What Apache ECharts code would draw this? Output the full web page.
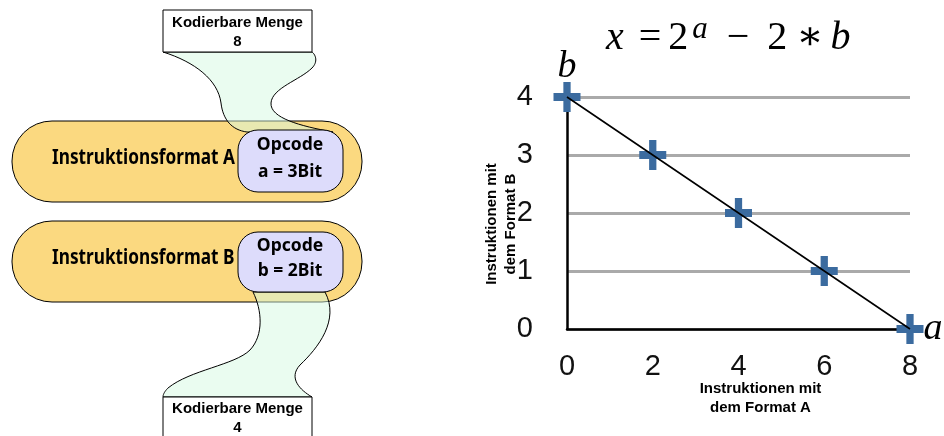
<!DOCTYPE html>
<html>
<head>
<meta charset="utf-8">
<script src="https://cdn.jsdelivr.net/npm/echarts@6/dist/echarts.min.js"></script>
<style>
  html, body { margin: 0; padding: 0; background: #fff; }
  #chart { width: 944px; height: 436px; }
</style>
</head>
<body>
<div id="chart"></div>
<script>
// Werte des Diagramms
const aVals = [0, 2, 4, 6, 8]
const bVals = [4, 3, 2, 1, 0]
const cornerNames = ['b', '', '', '', 'a']

// Texte der Skizze links
const formatNames = ['Instruktionsformat A', 'Instruktionsformat B']
const opcodeLines = [['Opcode', 'a = 3Bit'], ['Opcode', 'b = 2Bit']]
const mengen = [8, 4]

const sansBold = 'bold 15px "Liberation Sans", Arial, sans-serif'
const diagFont = '"Noto Sans", sans-serif'

// Bezier-Segmente in Punkte zerlegen (fuer das gruene Band)
function ribbon(segs) {
  const pts = []
  segs.forEach(s => {
    if (s.length === 2) {
      pts.push(s)
      return
    }
    const [p0, p1, p2, p3] = s
    for (let k = 0; k <= 16; k++) {
      const t = k / 16
      const u = 1 - t
      pts.push([
        u * u * u * p0[0] + 3 * u * u * t * p1[0] + 3 * u * t * t * p2[0] + t * t * t * p3[0],
        u * u * u * p0[1] + 3 * u * u * t * p1[1] + 3 * u * t * t * p2[1] + t * t * t * p3[1]
      ])
    }
  })
  return {
    type: 'polygon',
    shape: { points: pts },
    style: { fill: 'rgba(213,249,225,0.5)', stroke: '#000', lineWidth: 1 }
  }
}

function pill(y) {
  return {
    type: 'rect',
    shape: { x: 12, y: y, width: 350, height: 81, r: 40 },
    style: { fill: '#fbd980', stroke: '#000', lineWidth: 1 }
  }
}
function opcodeBox(y, h) {
  return {
    type: 'rect',
    shape: { x: 238, y: y, width: 105, height: h, r: 20 },
    style: { fill: '#dddcfb', stroke: '#000', lineWidth: 1 }
  }
}
function textEl(x, y, text, font, align, lh, extra) {
  return Object.assign({
    type: 'text',
    x: x,
    y: y,
    style: {
      text: text,
      font: font,
      fill: '#000',
      align: align,
      verticalAlign: 'middle',
      lineHeight: lh
    }
  }, extra || {})
}

const graphic = [
  // Format A
  pill(121),
  ribbon([
    [[163, 52], [195, 62], [218, 80], [221, 103]],
    [[221, 103], [223, 120], [232, 130], [247, 132]],
    [333, 132],
    [[333, 132], [300, 126], [270, 118], [271, 103]],
    [[271, 103], [272, 88], [300, 80], [312, 68]],
    [[312, 68], [318, 62], [316, 55], [312, 52]]
  ]),
  opcodeBox(130, 62),
  { type: 'rect', shape: { x: 163, y: 10, width: 149, height: 42 }, style: { fill: '#fff', stroke: '#000', lineWidth: 1 } },
  textEl(237.5, 32.5, 'Kodierbare Menge\n' + mengen[0], sansBold, 'center', 19),
  textEl(52, 158, formatNames[0], 'bold 21px ' + diagFont, 'left', 24, { scaleX: 0.82 }),
  textEl(290, 158.5, opcodeLines[0].join('\n'), 'bold 17.5px ' + diagFont, 'center', 27),
  // Format B
  pill(221),
  ribbon([
    [[253, 292], [262, 310], [264, 335], [250, 350]],
    [[250, 350], [235, 365], [190, 370], [168, 388]],
    [[168, 388], [164, 392], [163, 395], [163, 397]],
    [312, 397],
    [[312, 397], [300, 390], [288, 378], [300, 365]],
    [[300, 365], [318, 348], [340, 320], [325, 292]]
  ]),
  opcodeBox(232, 60),
  { type: 'rect', shape: { x: 163, y: 397, width: 149, height: 45 }, style: { fill: '#fff', stroke: '#000', lineWidth: 1 } },
  textEl(237.5, 418.5, 'Kodierbare Menge\n' + mengen[1], sansBold, 'center', 19),
  textEl(52, 258, formatNames[1], 'bold 21px ' + diagFont, 'left', 24, { scaleX: 0.82 }),
  textEl(290, 258.5, opcodeLines[1].join('\n'), 'bold 17.5px ' + diagFont, 'center', 25)
]

const points = aVals.map((a, i) => {
  const item = { value: [a, bVals[i]] }
  if (cornerNames[i]) {
    item.label = {
      show: true,
      formatter: cornerNames[i],
      position: i === 0 ? 'top' : 'right',
      distance: i === 0 ? -4 : 0
    }
  }
  return item
})

const plusPath = 'path://M9.5,0 H16.5 V9.5 H26 V16.5 H16.5 V26 H9.5 V16.5 H0 V9.5 H9.5 Z'
const serif = '"Liberation Serif", "DejaVu Serif", serif'

const tNorm = { fontFamily: serif, fontWeight: 'normal', fontSize: 40, color: '#000', lineHeight: 48 }
const option = {
  animation: false,
  backgroundColor: '#fff',
  title: {
    left: 601,
    top: 9,
    text: '{x|x}{eq|=}{n|2}{s|a}{mi|\u2212}{n2|2}{st|\u2217}{b|b}',
    textStyle: {
      rich: {
        x: Object.assign({}, tNorm, { fontStyle: 'italic' }),
        eq: Object.assign({}, tNorm, { padding: [0, 0, 0, 15] }),
        n: Object.assign({}, tNorm, { padding: [0, 0, 0, 7] }),
        s: { fontFamily: serif, fontStyle: 'italic', fontWeight: 'normal', fontSize: 31, color: '#000', verticalAlign: 'top', lineHeight: 40, padding: [0, 0, 0, 4] },
        mi: Object.assign({}, tNorm, { padding: [0, 0, 0, 19] }),
        n2: Object.assign({}, tNorm, { padding: [0, 0, 0, 18] }),
        st: Object.assign({}, tNorm, { padding: [0, 0, 0, 9] }),
        b: Object.assign({}, tNorm, { fontStyle: 'italic', padding: [0, 0, 0, 7] })
      }
    }
  },
  graphic: graphic,
  grid: { left: 567, top: 97, width: 343, height: 232 },
  xAxis: {
    type: 'value',
    min: 0,
    max: 8,
    interval: 2,
    name: 'Instruktionen mit\ndem Format A',
    nameLocation: 'middle',
    nameGap: 50,
    nameMoveOverlap: false,
    nameTextStyle: {
      fontFamily: '"Liberation Sans", Arial, sans-serif',
      fontWeight: 'bold',
      fontSize: 15,
      lineHeight: 19,
      color: '#000',
      padding: [0, 0, 0, 44]
    },
    axisLine: { lineStyle: { color: '#000', width: 2.5 } },
    axisTick: { show: false },
    splitLine: { show: false },
    axisLabel: {
      fontFamily: '"Liberation Sans", Arial, sans-serif',
      fontSize: 29,
      color: '#111',
      margin: 23
    }
  },
  yAxis: {
    type: 'value',
    min: 0,
    max: 4,
    interval: 1,
    name: 'Instruktionen mit\ndem Format B',
    nameLocation: 'middle',
    nameGap: 47,
    nameMoveOverlap: false,
    nameTextStyle: {
      fontFamily: '"Liberation Sans", Arial, sans-serif',
      fontWeight: 'bold',
      fontSize: 15,
      lineHeight: 19,
      color: '#000',
      padding: [0, 22, 0, 0]
    },
    axisLine: { show: true, lineStyle: { color: '#000', width: 2.5 } },
    axisTick: { show: false },
    splitLine: { lineStyle: { color: '#aaaaaa', width: 3 } },
    axisLabel: {
      fontFamily: '"Liberation Sans", Arial, sans-serif',
      fontSize: 29,
      color: '#111',
      margin: 34
    }
  },
  series: [
    {
      type: 'scatter',
      data: points,
      symbol: plusPath,
      symbolSize: [27, 30],
      clip: false,
      z: 1,
      itemStyle: { color: '#3b6b9f', opacity: 1 },
      label: {
        show: false,
        fontFamily: serif,
        fontStyle: 'italic',
        fontSize: 38,
        color: '#000'
      }
    },
    {
      type: 'line',
      data: aVals.map((a, i) => [a, bVals[i]]),
      showSymbol: false,
      symbol: 'none',
      clip: false,
      z: 3,
      lineStyle: { color: '#000', width: 1.6 }
    }
  ]
}

const myChart = echarts.init(document.getElementById('chart'))
myChart.setOption(option)
</script>
</body>
</html>
